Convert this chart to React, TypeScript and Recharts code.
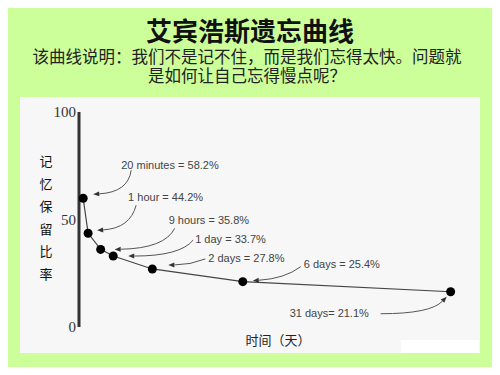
import { LabelList, Line, LineChart, XAxis, YAxis } from "recharts";

// points along the forgetting curve
const timePoints = ["20 minutes", "1 hour", "9 hours", "1 day", "2 days", "6 days", "31 days"];
// place of each point along the (unscaled) time axis, 0..100
const axisPosition = [1.1, 2.4, 5.7, 9.0, 19.3, 43.1, 97.8];
const retention = [59.9, 43.6, 36.1, 33.0, 27.0, 21.1, 16.4];
const calloutText = [
	"20 minutes = 58.2%",
	"1 hour = 44.2%",
	"9 hours = 35.8%",
	"1 day = 33.7%",
	"2 days = 27.8%",
	"6 days = 25.4%",
	"31 days= 21.1%",
];
const yTicks = [0, 50, 100];
const yLabelChars = ["记", "忆", "保", "留", "比", "率"];
const subtitleLines = [
	"该曲线说明：我们不是记不住，而是我们忘得太快。问题就",
	"是如何让自己忘得慢点呢？",
];

// callout layout relative to each point: text start, arrow start, curve control, arrow tip
const calloutLayout = [
	{ text: [38, -33], from: [48, -28], ctrl: [45, -6], to: [10, -4] },
	{ text: [40, -36], from: [48, -28], ctrl: [42, -5], to: [9, -3] },
	{ text: [68, -29], from: [74, -21], ctrl: [64, -1], to: [14, 0] },
	{ text: [82, -17], from: [80, -16], ctrl: [67, 0], to: [15, 0] },
	{ text: [56, -11], from: [53, -10], ctrl: [38, -4], to: [16, -4] },
	{ text: [61, -17], from: [58, -15], ctrl: [42, -3], to: [10, -1] },
	{ text: [-161, 21], from: [-70, 22], ctrl: [-20, 22], to: [-4, 5] },
];

const chartData = timePoints.map((name, i) => ({
	name,
	pos: axisPosition[i],
	retention: retention[i],
}));

// latin font first keeps the line boxes tight, CJK glyphs fall back to Noto
const headFont = "'Liberation Sans', 'Noto Sans CJK SC', sans-serif";

const renderCallout = (props: any) => {
	const index = props.index;
	const px = props.x ?? props.viewBox?.x;
	const py = props.y ?? props.viewBox?.y;
	const c = calloutLayout[index];
	if (!c || px == null || py == null) return null;
	const sx = px + c.from[0];
	const sy = py + c.from[1];
	const cx = px + c.ctrl[0];
	const cy = py + c.ctrl[1];
	const ex = px + c.to[0];
	const ey = py + c.to[1];
	const a = Math.atan2(ey - cy, ex - cx);
	const len = 6;
	const hw = 2.5;
	const bx = ex - len * Math.cos(a);
	const by = ey - len * Math.sin(a);
	const head = `${ex},${ey} ${bx - hw * Math.sin(a)},${by + hw * Math.cos(a)} ${bx + hw * Math.sin(a)},${by - hw * Math.cos(a)}`;
	return (
		<g key={`callout-${index}`}>
			<path d={`M${sx},${sy} Q${cx},${cy} ${bx},${by}`} fill="none" stroke="#555" strokeWidth={1} />
			<polygon points={head} fill="#333" />
			<text
				x={px + c.text[0]}
				y={py + c.text[1]}
				dy="0.35em"
				fontSize={11}
				fontFamily="'Liberation Sans', Arial, sans-serif"
				fill="#444"
			>
				{calloutText[index]}
			</text>
		</g>
	);
};

export default function App() {
	return (
		<div
			style={{
				position: "relative",
				width: 500,
				height: 375,
				margin: -8,
				background: "#ccff99",
				overflow: "hidden",
				fontFamily: "'Noto Sans CJK SC', sans-serif",
			}}
		>
			<div
				style={{
					position: "absolute",
					left: 0,
					top: 17,
					width: 500,
					textAlign: "center",
					fontFamily: headFont,
					fontSize: 26,
					lineHeight: "30px",
					fontWeight: 700,
					color: "#111",
				}}
			>
				艾宾浩斯遗忘曲线
			</div>
			{subtitleLines.map((line, i) => (
				<div
					key={line}
					style={{
						position: "absolute",
						left: 0,
						top: 48 + i * 19,
						width: 494,
						textAlign: "center",
						fontFamily: headFont,
						fontSize: 16.5,
						lineHeight: "19px",
						height: 19,
						color: "#222",
						whiteSpace: "nowrap",
					}}
				>
					{line}
				</div>
			))}
			<div
				style={{
					position: "absolute",
					left: 20,
					top: 97,
					width: 460,
					height: 256,
					background: "#f7f7f7",
				}}
			/>
			<div
				style={{
					position: "absolute",
					left: 401,
					top: 340,
					width: 78,
					height: 13,
					background: "#ffffff",
				}}
			/>
			<div
				style={{
					position: "absolute",
					left: 39,
					top: 150,
					width: 14,
					fontSize: 13,
					lineHeight: "22.6px",
					color: "#111",
					textAlign: "center",
				}}
			>
				{yLabelChars.map((ch) => (
					<div key={ch}>{ch}</div>
				))}
			</div>
			<div
				style={{
					position: "absolute",
					left: 228,
					top: 331,
					width: 100,
					textAlign: "center",
					fontSize: 13,
					lineHeight: "18px",
					color: "#222",
				}}
			>
				时间（天）
			</div>
			<div style={{ position: "absolute", left: 0, top: 0 }}>
				<LineChart
					width={500}
					height={375}
					data={chartData}
					margin={{ top: 112, right: 41, bottom: 48, left: 49 }}
				>
					<XAxis
						type="number"
						dataKey="pos"
						domain={[0, 100]}
						tick={false}
						tickLine={false}
						height={0}
						axisLine={{ stroke: "#333", strokeWidth: 3 }}
					/>
					<YAxis
						type="number"
						domain={[0, 100]}
						ticks={yTicks}
						width={30}
						tickLine={false}
						tickSize={3}
						tickMargin={0}
						axisLine={{ stroke: "#333", strokeWidth: 3 }}
						tick={{
							fill: "#333",
							fontSize: 15,
							fontFamily: "'Liberation Serif', 'Times New Roman', serif",
						}}
					/>
					<Line
						type="linear"
						dataKey="retention"
						stroke="#444"
						strokeWidth={1.2}
						dot={{ r: 4.5, fill: "#000", stroke: "#000", strokeWidth: 0 }}
						activeDot={false}
						isAnimationActive={false}
					>
						<LabelList dataKey="retention" content={renderCallout} />
					</Line>
				</LineChart>
			</div>
		</div>
	);
}
